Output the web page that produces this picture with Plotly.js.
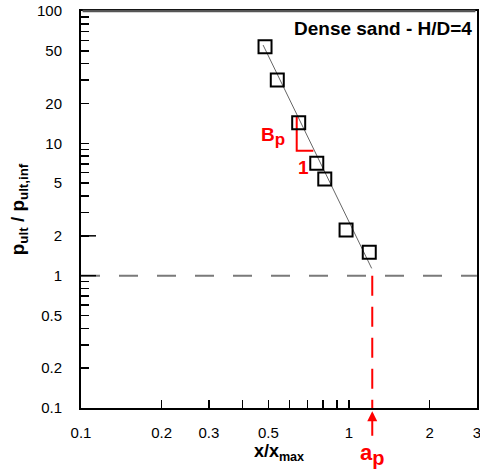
<!DOCTYPE html>
<html><head><meta charset="utf-8">
<script src="https://cdn.plot.ly/plotly-3.0.1.min.js"></script>
<style>body{margin:0;background:#fff}</style></head>
<body><div id="c" style="width:480px;height:475px"></div>
<script>
// data
const xData = [0.486, 0.540, 0.649, 0.758, 0.812, 0.975, 1.19];
const yData = [53.7, 30.1, 14.3, 7.06, 5.37, 2.21, 1.50];
const fitX = [0.478, 1.215];
const fitY = [55.3, 1.135];
const ap = 1.221;
const refX = [0.1, 3];
const refY = [1, 1];
const apLineX = [ap, ap];
const apLineY = [1, 0.1];
const slopeX = [0.638, 0.638, 0.736];
const slopeY = [15.8, 8.79, 8.79];
const xTickVals = [0.1, 0.2, 0.3, 0.5, 1, 2, 3];
const xTickText = ['0.1', '0.2', '0.3', '0.5', '1', '2', '3'];
const xMinor = [0.4, 0.6, 0.7, 0.8, 0.9];
const yTickVals = [0.1, 0.2, 0.5, 1, 2, 5, 10, 20, 50, 100];
const yTickText = ['0.1', '0.2', '0.5', '1', '2', '5', '10', '20', '50', '100'];
const yMinor = [0.3, 0.4, 0.6, 0.7, 0.8, 0.9, 3, 4, 6, 7, 8, 9, 30, 40, 60, 70, 80, 90];
const xDecades = [0.1, 1];
const yDecades = [0.1, 1, 10, 100];

const FONT = 'Liberation Sans, Arial, sans-serif';
const xr = [-1, Math.log10(3) + 0.0004];
const yr = [-1, 2];
const PW = 396, PH = 397; // plot area size in px

const traces = [
  {x: refX, y: refY, mode: 'lines', line: {color: '#7a7a7a', width: 2, dash: '19px,19px'}, hoverinfo: 'skip'},
  {x: apLineX, y: apLineY, mode: 'lines', line: {color: '#ff0000', width: 2, dash: '20px,11px'}, hoverinfo: 'skip'},
  {x: fitX, y: fitY, mode: 'lines', line: {color: '#666', width: 1}},
  {x: slopeX, y: slopeY, mode: 'lines', line: {color: '#ff0000', width: 2}},
  {x: xData, y: yData, mode: 'markers', marker: {symbol: 'square-open', size: 13, color: '#000', line: {width: 2, color: '#000'}}}
];

// longer decade ticks (axis decoration) and grey top frame line
const shapes = [];
yDecades.forEach(v => shapes.push({type: 'line', xref: 'paper', yref: 'y',
  x0: 0, x1: 15 / PW, y0: Math.log10(v), y1: Math.log10(v), line: {color: '#000', width: 1.5}}));
xDecades.forEach(v => shapes.push({type: 'line', xref: 'x', yref: 'paper',
  y0: 0, y1: 15 / PH, x0: Math.log10(v), x1: Math.log10(v), line: {color: '#000', width: 1.5}}));
shapes.push({type: 'line', xref: 'paper', yref: 'paper', x0: 0.004, x1: 0.996, y0: 1, y1: 1, line: {color: '#555', width: 2.5}});

const layout = {
  width: 480, height: 475,
  margin: {l: 81, r: 3, t: 11, b: 67},
  paper_bgcolor: '#fff', plot_bgcolor: '#fff',
  showlegend: false,
  font: {family: FONT, color: '#000', size: 15},
  xaxis: {
    type: 'log', range: xr, tickmode: 'array', tickvals: xTickVals, ticktext: xTickText,
    ticks: 'inside', ticklen: 8, tickwidth: 1.5, tickcolor: '#000',
    showline: true, linecolor: '#000', linewidth: 2, mirror: true, showgrid: false, zeroline: false,
    minor: {tickvals: xMinor, ticks: 'inside', ticklen: 8, tickwidth: 1.5, tickcolor: '#000', showgrid: false},
    tickfont: {size: 15}, ticklabelstandoff: 10, ticklabeloverflow: 'allow', automargin: false,
    title: {text: '<b>x/x<sub>max</sub></b>', font: {size: 18}, standoff: 3}
  },
  yaxis: {
    type: 'log', range: yr, tickmode: 'array', tickvals: yTickVals, ticktext: yTickText,
    ticks: 'inside', ticklen: 8, tickwidth: 1.5, tickcolor: '#000',
    showline: true, linecolor: '#000', linewidth: 2, mirror: true, showgrid: false, zeroline: false,
    minor: {tickvals: yMinor, ticks: 'inside', ticklen: 8, tickwidth: 1.5, tickcolor: '#000', showgrid: false},
    tickfont: {size: 15}, ticklabelstandoff: 14, ticklabeloverflow: 'allow', automargin: false,
    title: {text: '<b>p<sub>ult</sub> / p<sub>ult,inf</sub></b>', font: {size: 19}, standoff: 7}
  },
  shapes: shapes,
  annotations: [
    {xref: 'paper', yref: 'paper', x: 0.992, y: 0.955, xanchor: 'right', yanchor: 'middle', showarrow: false,
     text: '<b>Dense sand - H/D=4</b>', font: {size: 19, color: '#000'}},
    {xref: 'x', yref: 'paper', x: Math.log10(ap), y: -0.008, ax: 0, ay: 26, showarrow: true, text: '',
     arrowhead: 2, arrowsize: 1, arrowwidth: 2, arrowcolor: '#ff0000'},
    {xref: 'x', yref: 'paper', x: Math.log10(ap), y: -0.118, showarrow: false, xanchor: 'center', yanchor: 'middle',
     text: '<b>a<sub><span style="font-size:20px">p</span></sub></b>', font: {size: 22, color: '#ff0000'}},
    {xref: 'paper', yref: 'paper', x: (273 - 81) / 396, y: (408 - 136) / 397, showarrow: false, xanchor: 'center', yanchor: 'middle',
     text: '<b>B<sub><span style="font-size:17px">p</span></sub></b>', font: {size: 19, color: '#ff0000'}},
    {xref: 'paper', yref: 'paper', x: (303 - 81) / 396, y: (408 - 167) / 397, showarrow: false, xanchor: 'center', yanchor: 'middle',
     text: '<b>1</b>', font: {size: 19, color: '#ff0000'}}
  ]
};

Plotly.newPlot('c', traces, layout, {displayModeBar: false, staticPlot: true});
</script></body></html>
